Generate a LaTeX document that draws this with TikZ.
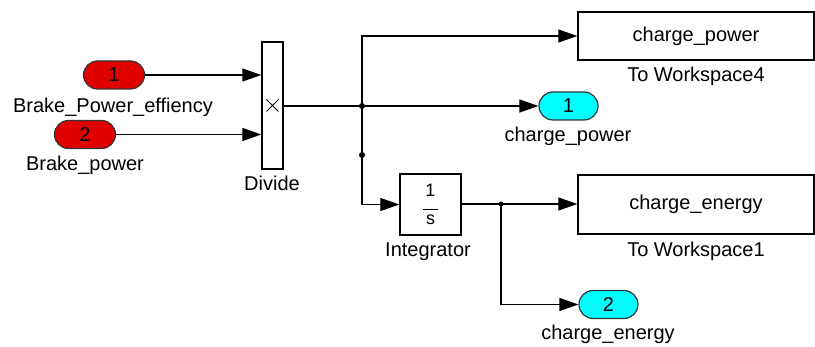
\documentclass[tikz,border=0pt]{standalone}
\usepackage{fontspec}
\setmainfont{Liberation Sans}
\usetikzlibrary{positioning,arrows.meta,calc}
\definecolor{portred}{RGB}{225,0,0}
\definecolor{portcyan}{RGB}{0,255,255}

\begin{document}
\begin{tikzpicture}[x=1pt,y=-1pt,
font=\fontsize{20}{23}\selectfont,
inport/.style={draw=black!80,line width=1.2pt,fill=portred,rounded corners=14pt,minimum width=61pt,minimum height=28pt,inner sep=0pt},
outport/.style={draw=black!80,line width=1.2pt,fill=portcyan,rounded corners=14pt,minimum width=59pt,minimum height=28pt,inner sep=0pt},
blk/.style={draw,line width=1.4pt,inner sep=0pt},
lbl/.style={anchor=base,inner sep=0pt},
arr/.style={-{Triangle[length=19pt,width=13pt]},line width=1.3pt},
wire/.style={line width=1.3pt},
dot/.style={circle,fill,inner sep=0pt,minimum size=6pt}]
\useasboundingbox (0,0) rectangle (815,347);
% inputs
\node[inport] (in1) at (114,75) {1};
\node[lbl] at (113,113) {Brake\_Power\_effiency};
\node[inport] (in2) at (85,134.5) {2};
\node[lbl] at (85,171) {Brake\_power};
% divide
\node[blk,minimum width=21pt,minimum height=127pt] (div) at (272.5,105.5) {};
\draw[line width=0.8pt] ($(div.center)+(-6,-6)$) -- ($(div.center)+(6,6)$)
  ($(div.center)+(-6,6)$) -- ($(div.center)+(6,-6)$);
\node[lbl] at (272,191) {Divide};
% sinks
\node[blk,minimum width=236pt,minimum height=48pt] (ws4) at (696,36) {charge\_power};
\node[lbl] at (696,82) {To Workspace4};
\node[outport] (out1) at (568.5,106) {1};
\node[lbl] at (568,142) {charge\_power};
\node[blk,minimum width=61pt,minimum height=61pt,align=center] (int) at (430.5,204.5) {};
\node[inner sep=0pt,align=center,font=\fontsize{18}{18}\selectfont] at (int.center) {1\\[-5pt]\rule{15pt}{1pt}\\[-3pt]s};
\node[lbl] at (428,257) {Integrator};
\node[blk,minimum width=236pt,minimum height=59pt] (ws1) at (696,204.5) {charge\_energy};
\node[lbl] at (696,257) {To Workspace1};
\node[outport] (out2) at (608.5,304.5) {2};
\node[lbl] at (608,340) {charge\_energy};
% branch points
\node[dot] (b1) at (362,106) {};
\node[dot] (b2) at (362,155) {};
\node[dot,minimum size=5pt] (b3) at (501,204) {};
% connectors
\draw[arr] (in1.east) -- (in1.east -| div.west);
\draw[arr] (in2.east) -- (in2.east -| div.west);
\draw[wire] (div.east |- b1) -- (b1.center);
\draw[arr] (b1.center) -- (b1.center -| out1.west);
\draw[arr] (b1.center) -- (b1.center |- ws4.west) -- (ws4.west);
\draw[arr] (b1.center) -- (b1.center |- int.west) -- (int.west);
\draw[wire] (int.east |- b3) -- (b3.center);
\draw[arr] (b3.center) -- (b3.center -| ws1.west);
\draw[arr] (b3.center) -- (b3.center |- out2.west) -- (out2.west);
\end{tikzpicture}
\end{document}
